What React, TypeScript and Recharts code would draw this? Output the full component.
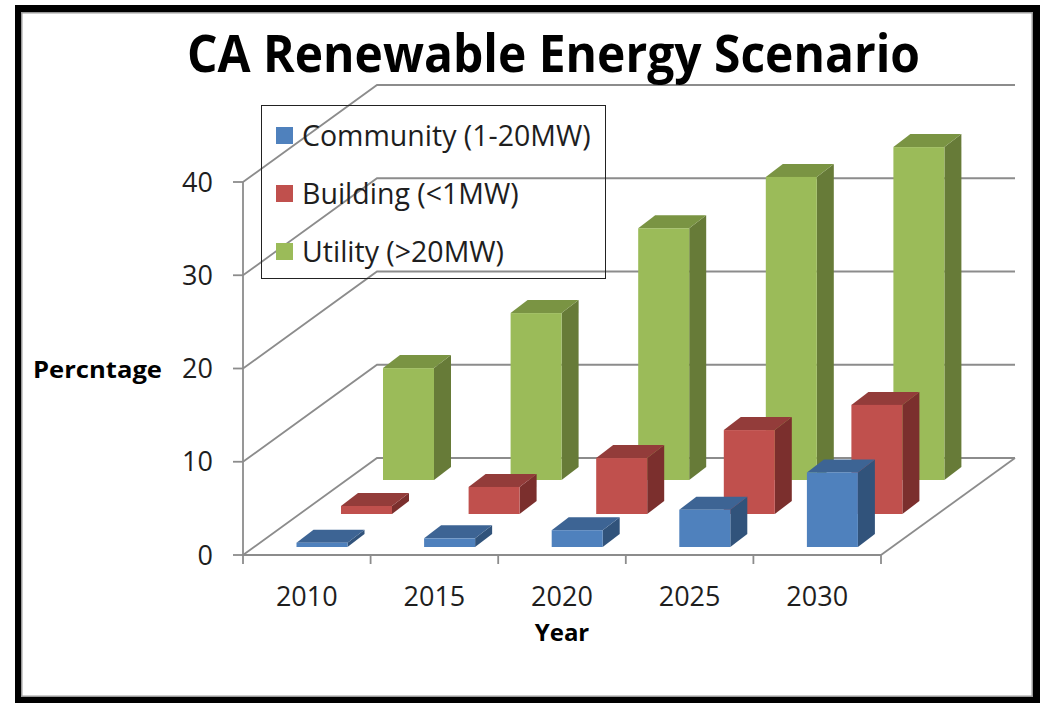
import React from 'react';
import { BarChart, Bar, XAxis, YAxis, CartesianGrid, Legend, ReferenceLine } from 'recharts';

// ---------- data ----------
const years = ['2010', '2015', '2020', '2025', '2030'];
const community = [0.46, 0.93, 1.8, 4.0, 8.0];
const building = [0.86, 2.9, 6.0, 9.0, 11.7];
const utility = [12.0, 17.9, 27.0, 32.5, 35.7];
const yTicks = [0, 10, 20, 30, 40];
const seriesNames = {
  community: 'Community (1-20MW)',
  building: 'Building (<1MW)',
  utility: 'Utility (>20MW)',
};
const legendOrder = ['community', 'building', 'utility'];

const data = years.map((year, i) => ({
  year,
  community: community[i],
  building: building[i],
  utility: utility[i],
}));

// ---------- styling ----------
const FONT = "'Open Sans', 'Liberation Sans', sans-serif";
const GRID = '#8C8C8C';
const WALL_DX = 134;
const WALL_DY = 97;
const BOX_DX = 17;
const BOX_DY = 13;
const X_TICK_SIZE = 9;
const X_TICK_MARGIN = 23;

const STYLE = {
  utility: { front: '#9BBB59', top: '#7A9443', side: '#677B38', dx: 102, dy: -75, axis: 'g' },
  building: { front: '#C0504D', top: '#933C3A', side: '#7B2F2D', dx: 60, dy: -41, axis: 'r' },
  community: { front: '#4F81BD', top: '#3D6494', side: '#31537B', dx: 15.5, dy: -8, axis: 'b' },
};
const drawOrder = ['utility', 'building', 'community'];

const makeBox = (s: any) => (props: any) => {
  const { x, y, width, height } = props;
  const fx = x + s.dx;
  const fy = y + s.dy;
  const w = width;
  const h = Math.max(height, 0);
  return (
    <g>
      <polygon
        points={`${fx + w},${fy} ${fx + w + BOX_DX},${fy - BOX_DY} ${fx + w + BOX_DX},${fy + h - BOX_DY} ${fx + w},${fy + h}`}
        fill={s.side}
      />
      <polygon
        points={`${fx},${fy} ${fx + BOX_DX},${fy - BOX_DY} ${fx + w + BOX_DX},${fy - BOX_DY} ${fx + w},${fy}`}
        fill={s.top}
      />
      <rect x={fx} y={fy} width={w} height={h} fill={s.front} />
    </g>
  );
};

const gridLine = (props: any) => {
  const { x1, y1, x2, index } = props;
  return (
    <path
      key={`g-${index}`}
      d={`M${x1},${y1} L${x1 + WALL_DX},${y1 - WALL_DY} L${x2 + WALL_DX},${y1 - WALL_DY}`}
      stroke={GRID}
      strokeWidth={1.8}
      fill="none"
    />
  );
};

const floorEdge = (props: any) => {
  const { x2, y2 } = props;
  return (
    <path
      d={`M${x2},${y2} L${x2 + WALL_DX},${y2 - WALL_DY}`}
      stroke={GRID}
      strokeWidth={1.8}
      fill="none"
    />
  );
};

const XTick = (props: any) => {
  const { x, y, payload, index, visibleTicksCount } = props;
  const off = payload && payload.offset != null ? payload.offset : 0;
  const axisY = y - X_TICK_SIZE - X_TICK_MARGIN;
  return (
    <g>
      <line x1={x - off} y1={axisY} x2={x - off} y2={axisY + X_TICK_SIZE} stroke={GRID} strokeWidth={1.8} />
      {index === visibleTicksCount - 1 && (
        <line x1={x + off} y1={axisY} x2={x + off} y2={axisY + X_TICK_SIZE} stroke={GRID} strokeWidth={1.8} />
      )}
      <text x={x} y={y} dy="0.71em" textAnchor="middle" fill="#1E1E1E" fontSize={27} fontFamily={FONT}>
        {payload.value}
      </text>
    </g>
  );
};

const YLabel = (props: any) => {
  const { viewBox } = props;
  return (
    <text
      x={viewBox.x}
      y={viewBox.y + viewBox.height / 2 + 9}
      textAnchor="start"
      fontFamily={FONT}
      fontWeight={700}
      fontSize={24}
      fill="#000"
      textLength={129}
      lengthAdjust="spacingAndGlyphs"
    >
      Percntage
    </text>
  );
};

const XLabel = (props: any) => {
  const { viewBox } = props;
  return (
    <text
      x={viewBox.x + viewBox.width / 2}
      y={viewBox.y + 86}
      textAnchor="middle"
      fontFamily={FONT}
      fontWeight={700}
      fontSize={24}
      fill="#000"
    >
      Year
    </text>
  );
};

const renderLegend = (props: any) => {
  const items = [...(props.payload || [])].sort(
    (a: any, b: any) => legendOrder.indexOf(a.dataKey) - legendOrder.indexOf(b.dataKey)
  );
  return (
    <div
      style={{
        boxSizing: 'border-box',
        width: 345,
        height: 174,
        border: '1.5px solid #222',
        paddingLeft: 14,
        fontFamily: FONT,
        fontSize: 28.5,
        color: '#1E1E1E',
      }}
    >
      {items.map((it: any) => (
        <div key={it.dataKey} style={{ display: 'flex', alignItems: 'center', height: 58, lineHeight: 1 }}>
          <span style={{ display: 'inline-block', width: 17, height: 17, background: it.color, marginRight: 9 }} />
          <span>{it.value}</span>
        </div>
      ))}
    </div>
  );
};

export default function App() {
  return (
    <div style={{ position: 'absolute', left: 0, top: 0, width: 1040, height: 703, background: '#fff', overflow: 'hidden' }}>
      <div
        style={{
          position: 'absolute',
          left: 15,
          top: 5,
          width: 1025,
          height: 698,
          boxSizing: 'border-box',
          borderLeft: '6px solid #000',
          borderTop: '7px solid #000',
          borderRight: '7px solid #000',
          borderBottom: '6px solid #000',
          boxShadow: 'inset 0 0 0 1.5px #9a9a9a',
        }}
      />
      <div style={{ position: 'absolute', left: 0, top: 0 }}>
        <BarChart
          width={1040}
          height={703}
          data={data}
          margin={{ top: 182, right: 159, bottom: 48, left: 33 }}
        >
          <CartesianGrid vertical={false} horizontal={gridLine} />
          <XAxis
            xAxisId="b"
            dataKey="year"
            height={100}
            axisLine={{ stroke: GRID, strokeWidth: 1.8 }}
            tickLine={false}
            tickSize={X_TICK_SIZE}
            tickMargin={X_TICK_MARGIN}
            tick={<XTick />}
            interval={0}
            label={<XLabel />}
          />
          <XAxis xAxisId="r" dataKey="year" hide />
          <XAxis xAxisId="g" dataKey="year" hide />
          <YAxis
            xAxisId="b"
            width={210}
            domain={[0, 40]}
            ticks={yTicks}
            interval={0}
            axisLine={{ stroke: GRID, strokeWidth: 1.8 }}
            tickLine={{ stroke: GRID, strokeWidth: 1.8 }}
            tickSize={10}
            tickMargin={20}
            tick={{ fontSize: 27, fontFamily: FONT, fill: '#1E1E1E' }}
            label={<YLabel />}
          />
          <ReferenceLine xAxisId="b" y={0} shape={floorEdge} />
          {drawOrder.map((k) => {
            const s = (STYLE as any)[k];
            return (
              <Bar
                key={k}
                xAxisId={s.axis}
                dataKey={k}
                name={(seriesNames as any)[k]}
                fill={s.front}
                barSize={51}
                isAnimationActive={false}
                shape={makeBox(s)}
              />
            );
          })}
          <Legend
            layout="vertical"
            align="center"
            verticalAlign="middle"
            content={renderLegend}
            wrapperStyle={{ left: 261, top: 105, width: 345, height: 174 }}
          />
        </BarChart>
      </div>
      <svg width={1040} height={100} style={{ position: 'absolute', left: 0, top: 0 }}>
        <text
          x={187}
          y={72}
          fontFamily={FONT}
          fontWeight={700}
          fontSize={52}
          fill="#000"
          textLength={733}
          lengthAdjust="spacingAndGlyphs"
        >
          CA Renewable Energy Scenario
        </text>
      </svg>
    </div>
  );
}
